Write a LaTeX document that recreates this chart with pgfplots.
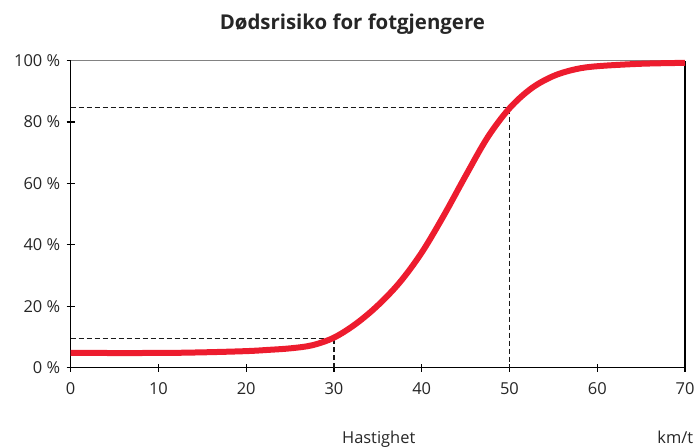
\documentclass[border=0pt]{standalone}
\usepackage{pgfplots}
\pgfplotsset{compat=1.18}
\usepackage{fontspec}
\setmainfont{Open Sans}
\definecolor{curvered}{RGB}{237,28,46}
\definecolor{topgray}{RGB}{130,130,130}
\begin{document}
\begin{tikzpicture}
\useasboundingbox (-70.7bp,-80.3bp) rectangle (627.3bp,367.7bp);
\begin{axis}[
  at={(0,0)}, anchor=origin,
  x=8.7757bp, y=3.07bp,
  xmin=0, xmax=70, ymin=0, ymax=100,
  axis lines=left,
  axis line style={-, line width=1.5bp, black},
  clip=false,
  xtick={0,10,...,70},
  ytick={0,20,...,100},
  xticklabels={0,10,20,30,40,50,60,70},
  yticklabels={0 \%,20 \%,40 \%,60 \%,80 \%,100 \%},
  tick align=center,
  major tick length=8bp,
  tick style={line width=1.2bp, black},
  ticklabel style={font=\fontsize{16.5}{18}\selectfont, text=black!85},
  x tick label style={yshift=-7bp},
  y tick label style={xshift=-3bp},
]
\draw[topgray, line width=1bp] (axis cs:0,100) -- (axis cs:70,100);
\draw[black, line width=1.2bp] (axis cs:70,0) -- (axis cs:70,100);
\addplot[black!90, line width=1.4bp, dash pattern=on 5bp off 3bp] coordinates {(0,9.5) (30,9.5) (30,0)};
\addplot[black!90, line width=1.4bp, dash pattern=on 5bp off 3bp] coordinates {(0,84.8) (50,84.8) (50,0)};
\addplot[curvered, line width=6bp, smooth, tension=0.55] coordinates {
(0,4.8) (10,4.8) (15,5.0) (20,5.4) (22.5,5.8) (25,6.3) (27.5,7.3) (30,9.8) (32.5,14.3) (35,20.3) (37.5,27.8) (40,37.5) (42.5,49.5) (45,62.5) (47.5,75) (50,84.5) (52.5,91) (55,95) (57.5,97.2) (60,98.2) (65,99) (70,99.3)
};
\node[anchor=base, font=\bfseries\fontsize{20.5}{24}\selectfont, text=black!85] at (axis cs:32.1,110) {Dødsrisiko for fotgjengere};
\node[anchor=base, font=\fontsize{16.5}{18}\selectfont, text=black!85] at (axis cs:35.1,-24.6) {Hastighet};
\node[anchor=base, font=\fontsize{16.5}{18}\selectfont, text=black!85] at (axis cs:68.9,-24.6) {km/t};
\end{axis}
\end{tikzpicture}
\end{document}
